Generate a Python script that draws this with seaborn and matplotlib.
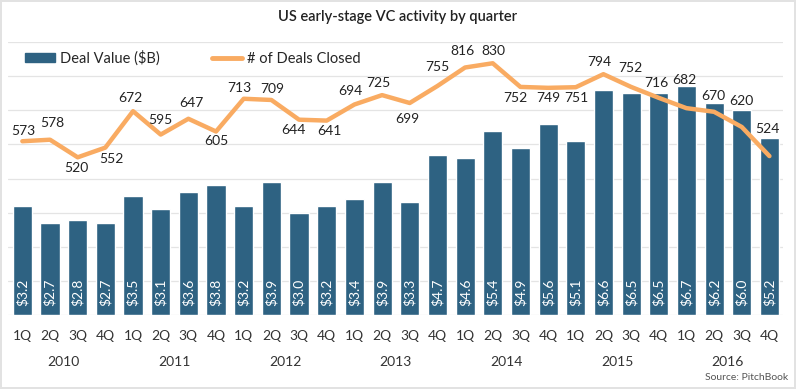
import numpy as np
import pandas as pd
import seaborn as sns
import matplotlib.pyplot as plt
from matplotlib.patches import Patch
from matplotlib.lines import Line2D
import matplotlib.transforms as mtransforms

years = ["2010", "2011", "2012", "2013", "2014", "2015", "2016"]
quarters = ["1Q", "2Q", "3Q", "4Q"]
deal_value = [3.2, 2.7, 2.8, 2.7, 3.5, 3.1, 3.6, 3.8, 3.2, 3.9, 3.0, 3.2, 3.4, 3.9,
              3.3, 4.7, 4.6, 5.4, 4.9, 5.6, 5.1, 6.6, 6.5, 6.5, 6.7, 6.2, 6.0, 5.2]
deals_closed = [573, 578, 520, 552, 672, 595, 647, 605, 713, 709, 644, 641, 694, 725,
                699, 755, 816, 830, 752, 749, 751, 794, 752, 716, 682, 670, 620, 524]

BAR = "#2E6282"
LINE = "#F9AB62"

periods = [f"{q} {y}" for y in years for q in quarters]
df = pd.DataFrame({"period": periods, "value": deal_value, "deals": deals_closed})

sns.set_theme(style="white")
plt.rcParams["font.family"] = ["Lato", "DejaVu Sans"]

fig = plt.figure(figsize=(7.96, 3.89), dpi=100)
fig.patch.set_edgecolor("#e2e2e2")
fig.patch.set_linewidth(1.5)
ax = fig.add_axes([0.010, 0.190, 0.974, 0.702])

# bars
sns.barplot(data=df, x="period", y="value", color=BAR, width=0.69, saturation=1, ax=ax)
ax.set_ylim(0, 8)
ax.set_xlim(-0.52, len(df) - 0.5)
ax.set_yticks(range(0, 9))
ax.yaxis.grid(True, color="#e4e4e4", lw=0.9)
ax.set_axisbelow(True)
ax.set_xticks(range(len(df)))
ax.set_xticklabels(quarters * len(years), fontsize=10, color="#333333")
ax.set_xlabel("")
ax.set_ylabel("")
for s in ax.spines.values():
    s.set_visible(False)

for i, v in enumerate(deal_value):
    ax.text(i, 0.26, f"${v:.1f}", rotation=90, ha="center", va="bottom",
            color="white", fontsize=10)

# year labels under the quarters
trans = mtransforms.blended_transform_factory(ax.transData, ax.transAxes)
for k, y in enumerate(years):
    ax.text(k * 4 + 1.5, -0.172, y, transform=trans, ha="center", va="center",
            fontsize=10, color="#333333")

# line on second axis
ax2 = ax.twinx()
sns.lineplot(x=np.arange(len(df)), y=df["deals"], color=LINE, lw=3.2, ax=ax2)
ax2.set_ylim(0, 900)
ax2.set_xlim(ax.get_xlim())
ax2.set_ylabel("")
ax2.set_yticks([])
ax2.tick_params(right=False, labelright=False)
for s in ax2.spines.values():
    s.set_visible(False)
ax.tick_params(left=False, labelleft=False, bottom=False, pad=5)

# label offsets in pixels (dx, dy)
offsets = [(1, 10), (2, 17), (-1, -11), (6, -11), (-3, 13), (0, 15), (3, 16), (0, -9),
           (-4, 11), (1, 11), (-6, -10), (3, -10), (-4, 14), (-4, 12), (-2, -16), (0, 19),
           (-3, 16), (1, 12), (-5, -11), (0, -10), (1, -11), (-4, 12), (-1, 19), (-2, 15),
           (-2, 28), (-1, 16), (0, 26), (-2, 27)]
for i, (v, off) in enumerate(zip(deals_closed, offsets)):
    ax2.annotate(f"{v}", (i, v), xytext=off, textcoords="offset pixels",
                 ha="center", va="center", fontsize=10, color="#222222")

handles = [Patch(color=BAR), Line2D([], [], color=LINE, lw=3.5)]
ax2.legend(handles, ["Deal Value ($B)", "# of Deals Closed"], loc="center left",
           bbox_to_anchor=(0.005, 0.941), ncol=2, frameon=False, fontsize=10.5,
           handlelength=2.05, handleheight=0.5, handletextpad=0.35, columnspacing=3.6)

fig.text(0.5, 1 - 17 / 389, "US early-stage VC activity by quarter", ha="center",
         va="center", fontsize=10.5, color="#222222", weight="semibold")
fig.text(0.99, 1 - 378 / 389, "Source: PitchBook", ha="right", va="center",
         fontsize=7.5, color="#555555")

fig.savefig("out.png", dpi=100)
plt.close(fig)
